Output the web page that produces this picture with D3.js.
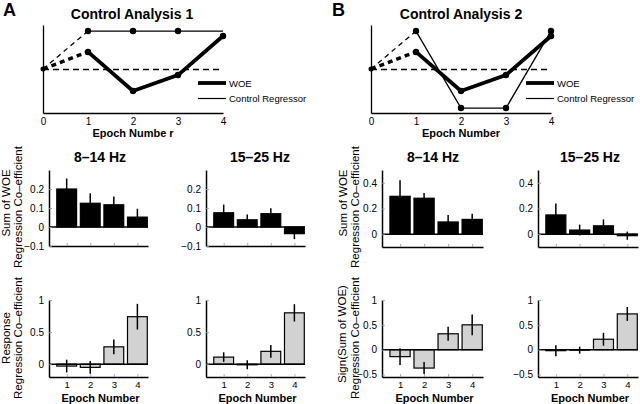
<!DOCTYPE html>
<html><head><meta charset="utf-8">
<script src="https://cdn.jsdelivr.net/npm/d3@7"></script>
<style>
html,body{margin:0;padding:0;background:#fff;}
svg{display:block;font-family:"Liberation Sans",Arial,Helvetica,sans-serif;}
</style></head>
<body><svg id="c" width="640" height="404"></svg>
<script>
// ---------- data ----------
const topEpochs = [0, 1, 2, 3, 4];
const topTicks = [0, 1, 2, 3, 4];
const woeCurve = [0, 0.45, -0.58, -0.16, 0.87];
const controlA = [0, 1, 1, 1, 1];
const controlB = [0, 1, -1.03, -1.03, 1.0];

const epochs = [1, 2, 3, 4];
const epochTickLabels = ["1", "2", "3", "4"];

const woeA_alpha = [0.20, 0.125, 0.117, 0.052];
const woeA_alphaErr = [0.055, 0.052, 0.044, 0.044];
const woeA_beta = [0.075, 0.038, 0.07, -0.035];
const woeA_betaErr = [0.043, 0.028, 0.029, 0.029];

const woeB_alpha = [0.295, 0.28, 0.095, 0.115];
const woeB_alphaErr = [0.125, 0.04, 0.055, 0.045];
const woeB_beta = [0.15, 0.032, 0.065, -0.012];
const woeB_betaErr = [0.088, 0.042, 0.05, 0.032];

const respA_alpha = [-0.03, -0.05, 0.27, 0.74];
const respA_alphaErr = [0.1, 0.1, 0.115, 0.2];
const respA_beta = [0.11, -0.01, 0.2, 0.8];
const respA_betaErr = [0.075, 0.07, 0.1, 0.135];

const signB_alpha = [-0.14, -0.37, 0.32, 0.5];
const signB_alphaErr = [0.17, 0.12, 0.14, 0.21];
const signB_beta = [-0.02, -0.01, 0.21, 0.72];
const signB_betaErr = [0.11, 0.07, 0.13, 0.14];

const yTicksMidA = [-0.1, 0, 0.1, 0.2];
const yTicksMidB = [0, 0.2, 0.4];
const yTicksBotA = [0, 0.5, 1];
const yTicksBotB = [-0.5, 0, 0.5, 1];

// ---------- drawing ----------
const svg = d3.select("#c");
const fmt = v => (v < 0 ? "\u2212" : "") + String(Math.abs(v));

function txt(x, y, s, opt = {}) {
  const t = svg.append("text").attr("x", x).attr("y", y)
    .attr("font-size", opt.size || 10)
    .attr("font-weight", opt.bold ? "bold" : "normal")
    .attr("text-anchor", opt.anchor || "middle")
    .attr("fill", "#000");
  if (opt.rotate) t.attr("transform", `rotate(-90,${x},${y})`);
  t.text(s);
  return t;
}

// Panel letters and titles
txt(3, 16, "A", {size: 18, bold: true, anchor: "start"});
txt(332, 16, "B", {size: 18, bold: true, anchor: "start"});
txt(132, 19, "Control Analysis 1", {size: 14, bold: true});
txt(461, 19, "Control Analysis 2", {size: 14, bold: true});

function topPanel(x0, control, label, legendX) {
  const x = d3.scaleLinear().domain([0, 4]).range([x0, x0 + 180]);
  const y = d3.scaleLinear().domain([-1.16, 1.16]).range([113, 25]);
  const g = svg.append("g");
  const ax = g.append("g").attr("transform", "translate(0,113)")
    .call(d3.axisBottom(x).tickValues(topTicks).tickSize(0).tickPadding(5).tickFormat(d3.format("d")));
  ax.select(".domain").attr("stroke", "#000").attr("stroke-width", 1.3);
  ax.selectAll("text").attr("font-size", 10).attr("font-family", "Liberation Sans,Arial,sans-serif");
  const ay = g.append("g").attr("transform", `translate(${x0},0)`)
    .call(d3.axisLeft(y).tickValues([]).tickSizeOuter(0));
  ay.select(".domain").attr("stroke", "#000").attr("stroke-width", 1.3);
  // baseline dashed
  g.append("line").attr("x1", x(0)).attr("x2", x(4)).attr("y1", y(0) + 0.5).attr("y2", y(0) + 0.5)
    .attr("stroke", "#000").attr("stroke-width", 1.3).attr("stroke-dasharray", "6,4");
  const line = d3.line().x((d, i) => x(topEpochs[i])).y(d => y(d));
  g.append("path").attr("d", line.defined((d, i) => i <= 1)(control))
    .attr("fill", "none").attr("stroke", "#000").attr("stroke-width", 1.3).attr("stroke-dasharray", "5,4");
  g.append("path").attr("d", line.defined((d, i) => i <= 1)(woeCurve))
    .attr("fill", "none").attr("stroke", "#000").attr("stroke-width", 3.5).attr("stroke-dasharray", "5,4");
  g.append("path").attr("d", line.defined((d, i) => i >= 1)(control))
    .attr("fill", "none").attr("stroke", "#000").attr("stroke-width", 1.3);
  g.append("path").attr("d", line.defined((d, i) => i >= 1)(woeCurve))
    .attr("fill", "none").attr("stroke", "#000").attr("stroke-width", 3.8).attr("stroke-linejoin", "round");
  const ctrlDots = control === controlA ? [1, 2, 3] : [1, 2, 3, 4];
  g.selectAll(null).data(ctrlDots).enter().append("circle")
    .attr("cx", i => x(topEpochs[i])).attr("cy", i => y(control[i])).attr("r", 3.2).attr("fill", "#000");
  g.selectAll(null).data([1, 2, 3, 4]).enter().append("circle")
    .attr("cx", i => x(topEpochs[i])).attr("cy", i => y(woeCurve[i])).attr("r", 3.2).attr("fill", "#000");
  g.append("circle").attr("cx", x(0)).attr("cy", y(0)).attr("r", 2.5).attr("fill", "#000");
  // legend
  g.append("line").attr("x1", legendX).attr("x2", legendX + 28).attr("y1", 83).attr("y2", 83)
    .attr("stroke", "#000").attr("stroke-width", 3.8);
  g.append("line").attr("x1", legendX).attr("x2", legendX + 28).attr("y1", 98.5).attr("y2", 98.5)
    .attr("stroke", "#000").attr("stroke-width", 1.2);
  txt(legendX + 31, 86.5, "WOE", {size: 9.5, anchor: "start"});
  txt(legendX + 31, 101.5, "Control Regressor", {size: 9.5, anchor: "start"});
  const lab = txt(x(2), 137, "", {size: 11, bold: true});
  if (label === "r") {
    lab.append("tspan").text("Epoch Numbe");
    lab.append("tspan").attr("dx", 3).text("r");
  } else {
    lab.text("Epoch Number");
  }
}

topPanel(43, controlA, "r", 198);
topPanel(371, controlB, "", 526);

function barPanel(c) {
  const x = d3.scaleLinear().domain([0.25, 4.45]).range([c.x0, c.x1]);
  const y = d3.scaleLinear().domain(c.ydom).range([c.yb, c.yt]);
  const bw = (x(1.42) - x(1.0));
  const g = svg.append("g");
  g.selectAll(null).data(c.vals).enter().append("rect")
    .attr("x", (d, i) => x(epochs[i]) - bw)
    .attr("width", 2 * bw)
    .attr("y", d => y(Math.max(0, d)))
    .attr("height", d => Math.abs(y(d) - y(0)))
    .attr("fill", c.fill).attr("stroke", "#000").attr("stroke-width", 1.2);
  g.selectAll(null).data(c.vals).enter().append("line")
    .attr("x1", (d, i) => x(epochs[i])).attr("x2", (d, i) => x(epochs[i]))
    .attr("y1", (d, i) => y(d + c.errs[i])).attr("y2", (d, i) => y(d - c.errs[i]))
    .attr("stroke", "#000").attr("stroke-width", 1.5);
  g.append("line").attr("x1", x(0.25)).attr("x2", x(4.45)).attr("y1", y(0)).attr("y2", y(0))
    .attr("stroke", "#000").attr("stroke-width", 1.5);
  const ax = g.append("g").attr("transform", `translate(0,${c.yb})`)
    .call(d3.axisBottom(x).tickValues(epochs).tickSizeInner(-3).tickSizeOuter(0).tickPadding(4)
      .tickFormat((d, i) => c.xlabels ? epochTickLabels[i] : ""));
  ax.select(".domain").attr("stroke", "#000").attr("stroke-width", 1.5);
  ax.selectAll(".tick line").attr("stroke", "#999").attr("stroke-width", 0.8);
  ax.selectAll("text").attr("font-size", 9.5).attr("font-family", "Liberation Sans,Arial,sans-serif");
  const ay = g.append("g").attr("transform", `translate(${c.x0},0)`)
    .call(d3.axisLeft(y).tickValues(c.yticks).tickSizeInner(-3).tickSizeOuter(0).tickPadding(5).tickFormat(fmt));
  ay.select(".domain").attr("stroke", "#000").attr("stroke-width", 1.5);
  ay.selectAll(".tick line").attr("stroke", "#999").attr("stroke-width", 0.8);
  ay.selectAll("text").attr("font-size", 10).attr("font-family", "Liberation Sans,Arial,sans-serif");
  if (c.title) txt(c.tx, 162, c.title, {size: 14, bold: true});
  if (c.xlabels) txt((c.x0 + c.x1) / 2 + 2, 401.5, "Epoch Number", {size: 11, bold: true});
}

const midA = {ydom: [-0.1, 0.3], yt: 170, yb: 246, yticks: yTicksMidA, fill: "#000"};
const midB = {ydom: [-0.1, 0.5], yt: 170, yb: 247, yticks: yTicksMidB, fill: "#000"};
const botA = {ydom: [-0.2, 1.0], yt: 300, yb: 377, yticks: yTicksBotA, fill: "#d2d2d2", xlabels: true};
const botB = {ydom: [-0.55, 1.0], yt: 300, yb: 377, yticks: yTicksBotB, fill: "#d2d2d2", xlabels: true};

barPanel({...midA, x0: 49, x1: 148, vals: woeA_alpha, errs: woeA_alphaErr, title: "8\u201314 Hz", tx: 100});
barPanel({...midA, x0: 206, x1: 305, vals: woeA_beta, errs: woeA_betaErr, title: "15\u201325 Hz", tx: 260});
barPanel({...midB, x0: 382, x1: 483, vals: woeB_alpha, errs: woeB_alphaErr, title: "8\u201314 Hz", tx: 433});
barPanel({...midB, x0: 538, x1: 638, vals: woeB_beta, errs: woeB_betaErr, title: "15\u201325 Hz", tx: 590});
barPanel({...botA, x0: 49, x1: 148, vals: respA_alpha, errs: respA_alphaErr});
barPanel({...botA, x0: 206, x1: 305, vals: respA_beta, errs: respA_betaErr});
barPanel({...botB, x0: 382, x1: 483, vals: signB_alpha, errs: signB_alphaErr});
barPanel({...botB, x0: 538, x1: 638, vals: signB_beta, errs: signB_betaErr});

// y labels
txt(10, 203, "Sum of WOE", {size: 11.5, rotate: true});
txt(21.5, 207, "Regression Co\u2013efficient", {size: 11.5, rotate: true});
txt(10, 338, "Response", {size: 11.5, rotate: true});
txt(21.5, 338, "Regression Co\u2013efficient", {size: 11.5, rotate: true});
txt(347, 203, "Sum of WOE", {size: 11.5, rotate: true});
txt(358.5, 207, "Regression Co\u2013efficient", {size: 11.5, rotate: true});
txt(346, 334, "Sign(Sum of WOE)", {size: 11.5, rotate: true});
txt(358.5, 338, "Regression Co\u2013efficient", {size: 11.5, rotate: true});
</script></body></html>
